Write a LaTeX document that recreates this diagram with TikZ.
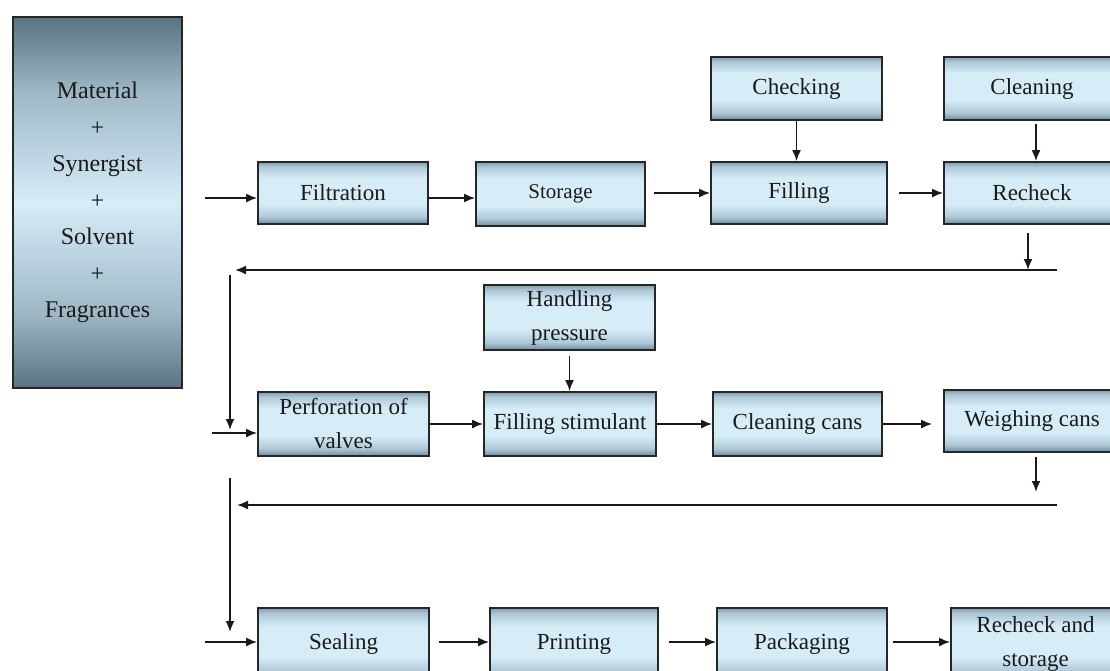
\documentclass[tikz,border=0pt]{standalone}
\usepackage{fontspec}
\setmainfont{Liberation Serif}
\usetikzlibrary{arrows.meta}
\definecolor{bxdark}{HTML}{6F8C9E}
\definecolor{bxmid}{HTML}{AFC9D8}
\definecolor{bxlight}{HTML}{D6EDF8}
\definecolor{bgdark}{HTML}{5A7383}
\definecolor{bgmid}{HTML}{9DB7C5}
\definecolor{txt}{HTML}{1A1A1A}
\pgfdeclareverticalshading{boxshade}{100bp}{color(0bp)=(bxdark); color(25bp)=(bxdark); color(31bp)=(bxmid); color(41bp)=(bxlight); color(62bp)=(bxlight); color(71bp)=(bxmid); color(75bp)=(bxdark!85); color(100bp)=(bxdark!85)}
\pgfdeclareverticalshading{bigshade}{100bp}{color(0bp)=(bgdark); color(25bp)=(bgdark); color(35bp)=(bgmid); color(50bp)=(bxlight); color(65bp)=(bgmid); color(75bp)=(bgdark); color(100bp)=(bgdark)}
\tikzset{
  x=1pt, y=-1pt,
  stepbox/.style={draw=black!85, line width=1.8pt, shading=boxshade, text=txt,
    font=\fontsize{23}{34}\selectfont, align=center, inner sep=0pt},
  bigbox/.style={draw=black!85, line width=1.8pt, shading=bigshade, text=txt,
    font=\fontsize{24}{36.5}\selectfont, align=center, inner sep=0pt},
  arr/.style={draw=black!90, line width=1.8pt, -{Latex[length=11pt,width=9pt]}},
}
\begin{document}
\begin{tikzpicture}
\useasboundingbox (0,0) rectangle (1110,670);
\clip (0,0) rectangle (1110,670);
\fill[white] (0,0) rectangle (1110,670);

% input box
\node[bigbox, minimum width=169pt, minimum height=371pt] (mat) at (97.5,202.5)
  {Material\\+\\Synergist\\+\\Solvent\\+\\Fragrances};

% row 1
\node[stepbox, minimum width=170pt, minimum height=62pt] (filt) at (343,193) {Filtration};
\node[stepbox, minimum width=169pt, minimum height=64pt, font=\fontsize{21}{30}\selectfont] (stor) at (560.5,194) {Storage};
\node[stepbox, minimum width=171pt, minimum height=63pt] (chk) at (796.5,88.5) {Checking};
\node[stepbox, minimum width=176pt, minimum height=62pt] (fill) at (799,193) {Filling};
\node[stepbox, minimum width=176pt, minimum height=63pt] (clean) at (1032,88.5) {Cleaning};
\node[stepbox, minimum width=176pt, minimum height=62pt] (rechk) at (1032,193) {Recheck};

% row 2
\node[stepbox, minimum width=171pt, minimum height=64pt] (perf) at (343.5,424) {Perforation of\\valves};
\node[stepbox, minimum width=171pt, minimum height=65pt] (hp) at (569.5,317.5) {Handling\\pressure};
\node[stepbox, minimum width=172pt, minimum height=64pt] (fs) at (570,424) {Filling stimulant};
\node[stepbox, minimum width=169pt, minimum height=64pt] (cc) at (797.5,424) {Cleaning cans};
\node[stepbox, minimum width=176pt, minimum height=62pt] (wc) at (1032,421) {Weighing cans};

% row 3
\node[stepbox, minimum width=171pt, minimum height=72pt] (seal) at (343.5,644) {Sealing};
\node[stepbox, minimum width=168pt, minimum height=72pt] (print) at (574,644) {Printing};
\node[stepbox, minimum width=170pt, minimum height=72pt] (pack) at (802,644) {Packaging};
\node[stepbox, minimum width=169pt, minimum height=72pt] (rs) at (1035.5,644) {Recheck and\\storage};

% free ends
\coordinate (in1) at (205,198);
\coordinate (j1) at (1028,270);
\coordinate (r1e) at (1057,270);
\coordinate (r1w) at (235,270);
\coordinate (v1t) at (230,275);
\coordinate (v1b) at (230,430);
\coordinate (in2) at (212,433);
\coordinate (j2) at (1036,492);
\coordinate (r2e) at (1057,505);
\coordinate (r2w) at (237,505);
\coordinate (v2t) at (230,478);
\coordinate (v2b) at (230,632);
\coordinate (in3) at (205,642);

% row 1 connectors
\draw[arr] (in1) -- (in1 -| filt.west);
\draw[arr] (filt.east |- in1) -- (stor.west |- in1);
\draw[arr, shorten <=8pt] (stor.east |- fill.east) -- (fill.west);
\draw[arr, shorten <=11pt] (fill.east) -- (rechk.west);
\draw[arr] (chk) -- (chk |- fill.north);
\draw[arr, shorten <=3pt] ([xshift=4pt]clean.south) -- ([xshift=4pt]rechk.north);
\draw[arr, shorten <=8pt] (rechk.south -| j1) -- (j1);
\draw[arr] (r1e) -- (r1w);
\draw[arr] (v1t) -- (v1b);

% row 2 connectors
\draw[arr] (in2) -- (in2 -| perf.west);
\draw[arr] (perf) -- (fs);
\draw[arr, shorten <=5pt] (hp) -- (hp |- fs.north);
\draw[arr] (fs) -- (cc);
\draw[arr, shorten >=11pt] (cc.east) -- (cc.east -| wc.west);
\draw[arr, shorten <=4pt] (wc.south -| j2) -- (j2);
\draw[arr] (r2e) -- (r2w);
\draw[arr] (v2t) -- (v2b);

% row 3 connectors
\draw[arr] (in3) -- (in3 -| seal.west);
\draw[arr, shorten <=9pt] (seal.east |- in3) -- (print.west |- in3);
\draw[arr, shorten <=10pt] (print.east |- in3) -- (pack.west |- in3);
\draw[arr, shorten <=5pt] (pack.east |- in3) -- (rs.west |- in3);
\end{tikzpicture}
\end{document}
